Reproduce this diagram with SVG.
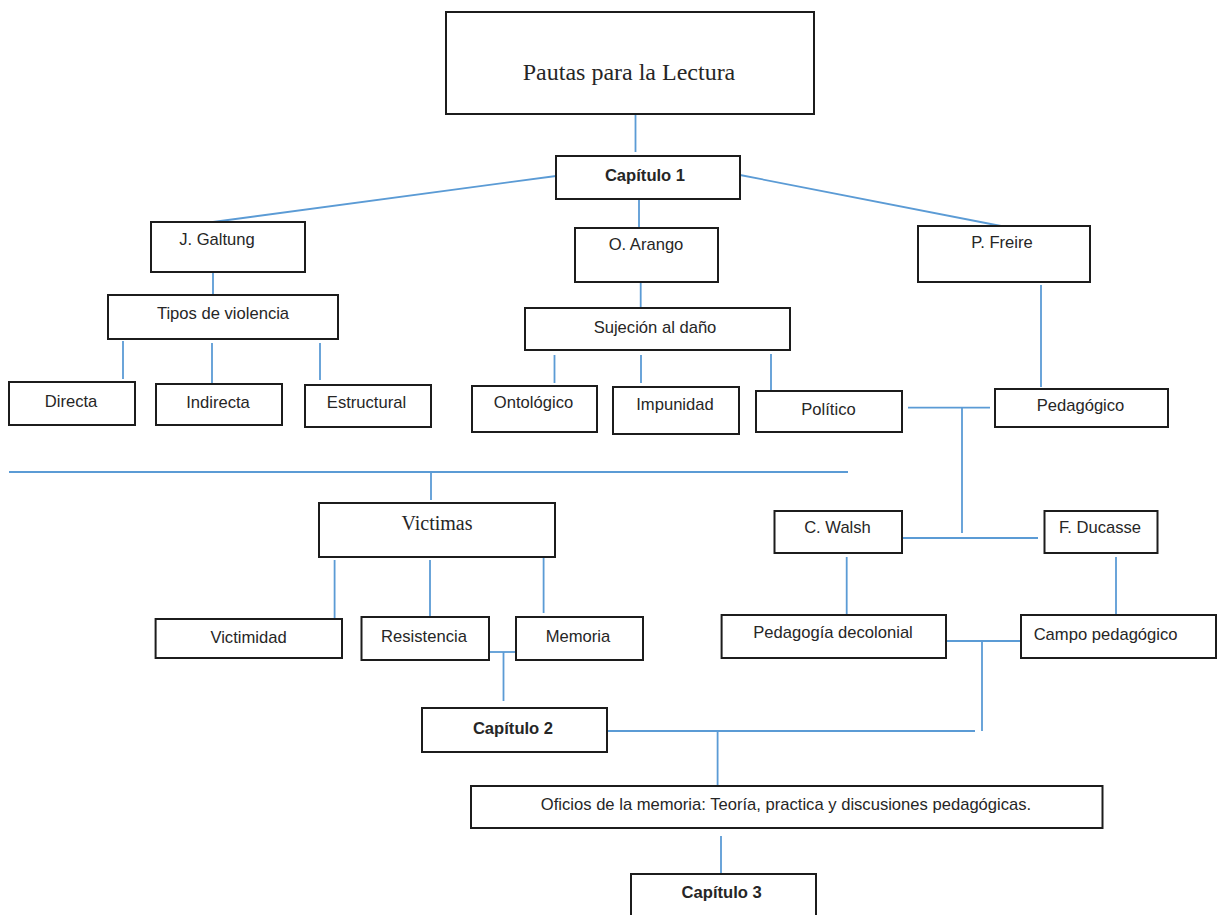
<svg xmlns="http://www.w3.org/2000/svg" width="1219" height="915" viewBox="0 0 1219 915">
<style>
.b{fill:#fff;stroke:#1c1c1c;stroke-width:2}
.t{font-family:"Liberation Sans",Arial,sans-serif;font-size:16.6px;fill:#262626;text-anchor:middle}
.bd{font-weight:bold}
.s{font-family:"Liberation Serif","Times New Roman",serif;fill:#262626;text-anchor:middle}
.c line{stroke:#5b9bd5;stroke-width:1.8;fill:none}
</style>
<rect width="1219" height="915" fill="#fff"/>
<g class="c" id="connectors">
<line x1="635.5" y1="114" x2="635.5" y2="152"/>
<line x1="556" y1="176" x2="213" y2="222"/>
<line x1="740" y1="175" x2="1001" y2="226"/>
<line x1="639" y1="199" x2="639" y2="228"/>
<line x1="213" y1="272" x2="213" y2="296"/>
<line x1="123" y1="341" x2="123" y2="379"/>
<line x1="212" y1="343" x2="212" y2="385"/>
<line x1="320" y1="343" x2="320" y2="380"/>
<line x1="640.7" y1="282" x2="640.7" y2="307"/>
<line x1="554.5" y1="355" x2="554.5" y2="383"/>
<line x1="641" y1="355" x2="641" y2="383"/>
<line x1="771" y1="354" x2="771" y2="391"/>
<line x1="1041" y1="285" x2="1041" y2="387"/>
<line x1="908" y1="407.7" x2="990" y2="407.7"/>
<line x1="962" y1="407.7" x2="962" y2="533"/>
<line x1="9" y1="472" x2="848" y2="472"/>
<line x1="431" y1="472" x2="431" y2="500"/>
<line x1="902" y1="538" x2="1038" y2="538"/>
<line x1="846.7" y1="557" x2="846.7" y2="615"/>
<line x1="1116" y1="557" x2="1116" y2="615"/>
<line x1="946" y1="641" x2="1021" y2="641"/>
<line x1="982" y1="641" x2="982" y2="731"/>
<line x1="606" y1="731" x2="975" y2="731"/>
<line x1="717.6" y1="731" x2="717.6" y2="786"/>
<line x1="334.6" y1="560" x2="334.6" y2="618"/>
<line x1="430" y1="560" x2="430" y2="618"/>
<line x1="543.6" y1="555" x2="543.6" y2="613"/>
<line x1="489" y1="652" x2="516" y2="652"/>
<line x1="503.5" y1="652" x2="503.5" y2="701"/>
<line x1="721" y1="836" x2="721" y2="873"/>
</g>
<g id="pautas"><rect class="b" x="446" y="12" width="368" height="102"/><text class="s" x="629" y="80" font-size="24">Pautas para la Lectura</text></g>
<g id="capitulo1"><rect class="b" x="556" y="156" width="184" height="43"/><text class="t bd" x="645" y="181">Capítulo 1</text></g>
<g id="galtung"><rect class="b" x="151" y="222" width="154" height="50"/><text class="t" x="217" y="245">J. Galtung</text></g>
<g id="arango"><rect class="b" x="575" y="228" width="143" height="54"/><text class="t" x="646" y="250">O. Arango</text></g>
<g id="freire"><rect class="b" x="918" y="226" width="172" height="56"/><text class="t" x="1002" y="248">P. Freire</text></g>
<g id="tipos"><rect class="b" x="108" y="295" width="230" height="44"/><text class="t" x="223" y="319">Tipos de violencia</text></g>
<g id="directa"><rect class="b" x="9" y="382" width="126" height="43"/><text class="t" x="71" y="407">Directa</text></g>
<g id="indirecta"><rect class="b" x="156" y="384" width="126" height="41"/><text class="t" x="218" y="408">Indirecta</text></g>
<g id="estructural"><rect class="b" x="305" y="385" width="126" height="42"/><text class="t" x="366.5" y="408">Estructural</text></g>
<g id="sujecion"><rect class="b" x="525" y="308" width="265" height="42"/><text class="t" x="655" y="333">Sujeción al daño</text></g>
<g id="ontologico"><rect class="b" x="472" y="386" width="125" height="46"/><text class="t" x="533.5" y="408">Ontológico</text></g>
<g id="impunidad"><rect class="b" x="613" y="387" width="126" height="47"/><text class="t" x="675" y="410">Impunidad</text></g>
<g id="politico"><rect class="b" x="756" y="391" width="146" height="41"/><text class="t" x="828.5" y="415">Político</text></g>
<g id="pedagogico"><rect class="b" x="995" y="389" width="173" height="38"/><text class="t" x="1080.5" y="411">Pedagógico</text></g>
<g id="victimas"><rect class="b" x="319" y="503" width="236" height="54"/><text class="s" x="437" y="530" font-size="20">Victimas</text></g>
<g id="walsh"><rect class="b" x="774.5" y="511" width="127.5" height="42"/><text class="t" x="837.5" y="533">C. Walsh</text></g>
<g id="ducasse"><rect class="b" x="1044.5" y="511" width="113" height="42"/><text class="t" x="1100" y="533">F. Ducasse</text></g>
<g id="victimidad"><rect class="b" x="155.6" y="619" width="186.4" height="39"/><text class="t" x="248.5" y="643">Victimidad</text></g>
<g id="resistencia"><rect class="b" x="361.5" y="617" width="127.5" height="43"/><text class="t" x="424" y="642">Resistencia</text></g>
<g id="memoria"><rect class="b" x="516" y="617" width="127" height="43"/><text class="t" x="578" y="642">Memoria</text></g>
<g id="decolonial"><rect class="b" x="721.6" y="615" width="224.4" height="43"/><text class="t" x="833" y="638">Pedagogía decolonial</text></g>
<g id="campo"><rect class="b" x="1021" y="615" width="195" height="43"/><text class="t" x="1105.6" y="640">Campo pedagógico</text></g>
<g id="capitulo2"><rect class="b" x="422" y="708" width="185" height="44"/><text class="t bd" x="513" y="734">Capítulo 2</text></g>
<g id="oficios"><rect class="b" x="471" y="786" width="631.5" height="42"/><text class="t" x="786" y="810">Oficios de la memoria: Teoría, practica y discusiones pedagógicas.</text></g>
<g id="capitulo3"><rect class="b" x="631" y="874" width="185" height="50"/><text class="t bd" x="721.7" y="898">Capítulo 3</text></g>
</svg>
